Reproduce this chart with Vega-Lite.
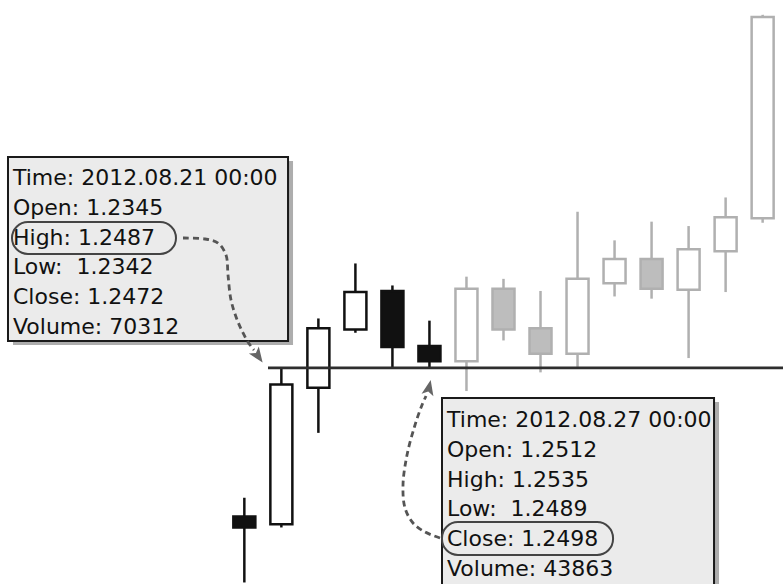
{
  "$schema": "https://vega.github.io/schema/vega-lite/v6.json",
  "autosize": {"type": "none"},
  "width": 783,
  "height": 584,
  "padding": 0,
  "background": "#ffffff",
  "config": {"view": {"stroke": null}, "scale": {"continuousPadding": 0}},
  "datasets": {
    "candles": [
      {"date": "2012.08.20", "slot": 0, "open": 1.2352, "high": 1.2369, "low": 1.2292, "close": 1.2342, "group": "focus"},
      {"date": "2012.08.21", "slot": 1, "open": 1.2345, "high": 1.2487, "low": 1.2342, "close": 1.2472, "group": "focus"},
      {"date": "2012.08.22", "slot": 2, "open": 1.2469, "high": 1.2532, "low": 1.2428, "close": 1.2523, "group": "focus"},
      {"date": "2012.08.23", "slot": 3, "open": 1.2522, "high": 1.2582, "low": 1.2519, "close": 1.2556, "group": "focus"},
      {"date": "2012.08.24", "slot": 4, "open": 1.2557, "high": 1.2562, "low": 1.2487, "close": 1.2506, "group": "focus"},
      {"date": "2012.08.27", "slot": 5, "open": 1.2507, "high": 1.2530, "low": 1.2487, "close": 1.2493, "group": "focus"},
      {"date": "2012.08.28", "slot": 6, "open": 1.2493, "high": 1.2570, "low": 1.2466, "close": 1.2559, "group": "later"},
      {"date": "2012.08.29", "slot": 7, "open": 1.2559, "high": 1.2568, "low": 1.2512, "close": 1.2522, "group": "later"},
      {"date": "2012.08.30", "slot": 8, "open": 1.2523, "high": 1.2557, "low": 1.2483, "close": 1.2500, "group": "later"},
      {"date": "2012.08.31", "slot": 9, "open": 1.2500, "high": 1.2629, "low": 1.2488, "close": 1.2568, "group": "later"},
      {"date": "2012.09.03", "slot": 10, "open": 1.2564, "high": 1.2603, "low": 1.2552, "close": 1.2586, "group": "later"},
      {"date": "2012.09.04", "slot": 11, "open": 1.2586, "high": 1.2620, "low": 1.2550, "close": 1.2559, "group": "later"},
      {"date": "2012.09.05", "slot": 12, "open": 1.2558, "high": 1.2616, "low": 1.2496, "close": 1.2595, "group": "later"},
      {"date": "2012.09.06", "slot": 13, "open": 1.2593, "high": 1.2642, "low": 1.2556, "close": 1.2624, "group": "later"},
      {"date": "2012.09.07", "slot": 14, "open": 1.2623, "high": 1.2808, "low": 1.2619, "close": 1.2806, "group": "later"}
    ],
    "level": [{"x": 0.639, "x2": 14.55, "price": 1.2487}],
    "boxes": [
      {"box": "2012.08.21", "x": -6.384, "x2": 1.180, "y": 1.267887, "y2": 1.25116},
      {"box": "2012.08.27", "x": 5.339, "x2": 12.687, "y": 1.245974, "y2": 1.2200}
    ],
    "texts": [
      {"box": "2012.08.21", "x": -6.249, "y": 1.265332, "label": "Time: 2012.08.21 00:00\nOpen: 1.2345\nHigh: 1.2487\nLow:\u00a0 1.2342\nClose: 1.2472\nVolume: 70312"},
      {"box": "2012.08.27", "x": 5.4745, "y": 1.243332, "label": "Time: 2012.08.27 00:00\nOpen: 1.2512\nHigh: 1.2535\nLow:\u00a0 1.2489\nClose: 1.2498\nVolume: 43863"}
    ],
    "ovals": [
      {"field": "High", "x": -6.276, "x2": -1.846, "y": 1.261968, "y2": 1.259059},
      {"field": "Close", "x": 5.339, "x2": 9.959, "y": 1.234695, "y2": 1.231695}
    ],
    "arrows": [
      {"arrow": "a1", "seq": 0, "x": -1.657, "y": 1.260514},
      {"arrow": "a1", "seq": 1, "x": -1.062, "y": 1.260423},
      {"arrow": "a1", "seq": 2, "x": -0.711, "y": 1.260059},
      {"arrow": "a1", "seq": 3, "x": -0.495, "y": 1.258968},
      {"arrow": "a1", "seq": 4, "x": -0.441, "y": 1.25715},
      {"arrow": "a1", "seq": 5, "x": -0.360, "y": 1.254877},
      {"arrow": "a1", "seq": 6, "x": -0.171, "y": 1.252877},
      {"arrow": "a1", "seq": 7, "x": 0.099, "y": 1.251059},
      {"arrow": "a1", "seq": 8, "x": 0.261, "y": 1.250332},
      {"arrow": "a2", "seq": 0, "x": 5.286, "y": 1.233241},
      {"arrow": "a2", "seq": 1, "x": 4.880, "y": 1.233786},
      {"arrow": "a2", "seq": 2, "x": 4.556, "y": 1.234605},
      {"arrow": "a2", "seq": 3, "x": 4.340, "y": 1.235968},
      {"arrow": "a2", "seq": 4, "x": 4.286, "y": 1.238059},
      {"arrow": "a2", "seq": 5, "x": 4.394, "y": 1.240786},
      {"arrow": "a2", "seq": 6, "x": 4.610, "y": 1.243514},
      {"arrow": "a2", "seq": 7, "x": 4.799, "y": 1.245332},
      {"arrow": "a2", "seq": 8, "x": 4.907, "y": 1.24615}
    ],
    "heads": [
      {"arrow": "a1", "x": 0.369, "y": 1.249786},
      {"arrow": "a2", "x": 4.988, "y": 1.246877}
    ]
  },
  "layer": [
    {
      "data": {"name": "candles"},
      "mark": {"type": "rule", "strokeWidth": 2.5},
      "encoding": {
        "x": {"field": "slot", "type": "quantitative", "scale": {"domain": [-6.6, 14.55], "nice": false, "zero": false, "padding": 0}, "axis": null},
        "y": {"field": "low", "type": "quantitative", "scale": {"domain": [1.22906, 1.28215], "nice": false, "zero": false}, "axis": null},
        "y2": {"field": "high"},
        "stroke": {"condition": {"test": "datum.group === 'later'", "value": "#b0b0b0"}, "value": "#111111"}
      }
    },
    {
      "data": {"name": "candles"},
      "mark": {"type": "bar", "width": 22, "strokeWidth": 2.5},
      "encoding": {
        "x": {"field": "slot", "type": "quantitative", "scale": {"domain": [-6.6, 14.55], "nice": false, "zero": false, "padding": 0}, "axis": null},
        "y": {"field": "open", "type": "quantitative", "scale": {"domain": [1.22906, 1.28215], "nice": false, "zero": false}, "axis": null},
        "y2": {"field": "close"},
        "fill": {"condition": [
          {"test": "datum.close < datum.open && datum.group === 'focus'", "value": "#111111"},
          {"test": "datum.close < datum.open", "value": "#bdbdbd"}
        ], "value": "#ffffff"},
        "stroke": {"condition": {"test": "datum.group === 'later'", "value": "#b0b0b0"}, "value": "#111111"}
      }
    },
    {
      "data": {"name": "level"},
      "mark": {"type": "rule", "stroke": "#2e2e2e", "strokeWidth": 2.8},
      "encoding": {
        "x": {"field": "x", "type": "quantitative", "scale": {"domain": [-6.6, 14.55], "nice": false, "zero": false, "padding": 0}, "axis": null},
        "x2": {"field": "x2"},
        "y": {"field": "price", "type": "quantitative", "scale": {"domain": [1.22906, 1.28215], "nice": false, "zero": false}, "axis": null}
      }
    },
    {
      "data": {"name": "boxes"},
      "mark": {"type": "rect", "fill": "#8a8a8a", "opacity": 0.7, "xOffset": 5, "x2Offset": 5, "yOffset": 4, "y2Offset": 4, "clip": true},
      "encoding": {
        "x": {"field": "x", "type": "quantitative", "scale": {"domain": [-6.6, 14.55], "nice": false, "zero": false, "padding": 0}, "axis": null},
        "x2": {"field": "x2"},
        "y": {"field": "y", "type": "quantitative", "scale": {"domain": [1.22906, 1.28215], "nice": false, "zero": false}, "axis": null},
        "y2": {"field": "y2"}
      }
    },
    {
      "data": {"name": "boxes"},
      "mark": {"type": "rect", "fill": "#ebebeb", "stroke": "#1a1a1a", "strokeWidth": 2, "clip": true},
      "encoding": {
        "x": {"field": "x", "type": "quantitative", "scale": {"domain": [-6.6, 14.55], "nice": false, "zero": false, "padding": 0}, "axis": null},
        "x2": {"field": "x2"},
        "y": {"field": "y", "type": "quantitative", "scale": {"domain": [1.22906, 1.28215], "nice": false, "zero": false}, "axis": null},
        "y2": {"field": "y2"}
      }
    },
    {
      "data": {"name": "texts"},
      "mark": {"type": "text", "align": "left", "baseline": "alphabetic", "font": "DejaVu Sans", "fontSize": 22, "lineBreak": "\n", "lineHeight": 29.8, "color": "#111111"},
      "encoding": {
        "x": {"field": "x", "type": "quantitative", "scale": {"domain": [-6.6, 14.55], "nice": false, "zero": false, "padding": 0}, "axis": null},
        "y": {"field": "y", "type": "quantitative", "scale": {"domain": [1.22906, 1.28215], "nice": false, "zero": false}, "axis": null},
        "text": {"field": "label"}
      }
    },
    {
      "data": {"name": "ovals"},
      "mark": {"type": "rect", "fill": null, "fillOpacity": 0, "stroke": "#444444", "strokeWidth": 2, "cornerRadius": 16},
      "encoding": {
        "x": {"field": "x", "type": "quantitative", "scale": {"domain": [-6.6, 14.55], "nice": false, "zero": false, "padding": 0}, "axis": null},
        "x2": {"field": "x2"},
        "y": {"field": "y", "type": "quantitative", "scale": {"domain": [1.22906, 1.28215], "nice": false, "zero": false}, "axis": null},
        "y2": {"field": "y2"}
      }
    },
    {
      "data": {"name": "arrows"},
      "mark": {"type": "line", "interpolate": "catmull-rom", "stroke": "#555555", "strokeWidth": 2.8, "strokeDash": [6, 4]},
      "encoding": {
        "x": {"field": "x", "type": "quantitative", "scale": {"domain": [-6.6, 14.55], "nice": false, "zero": false, "padding": 0}, "axis": null},
        "y": {"field": "y", "type": "quantitative", "scale": {"domain": [1.22906, 1.28215], "nice": false, "zero": false}, "axis": null},
        "detail": {"field": "arrow"},
        "order": {"field": "seq", "type": "quantitative"}
      }
    },
    {
      "data": {"name": "heads"},
      "transform": [{"filter": "datum.arrow === 'a1'"}],
      "mark": {"type": "point", "shape": "M0,-1L0.75,0.9L0,0.45L-0.75,0.9Z", "size": 260, "filled": true, "fill": "#666666", "opacity": 1, "angle": 145},
      "encoding": {
        "x": {"field": "x", "type": "quantitative", "scale": {"domain": [-6.6, 14.55], "nice": false, "zero": false, "padding": 0}, "axis": null},
        "y": {"field": "y", "type": "quantitative", "scale": {"domain": [1.22906, 1.28215], "nice": false, "zero": false}, "axis": null}
      }
    },
    {
      "data": {"name": "heads"},
      "transform": [{"filter": "datum.arrow === 'a2'"}],
      "mark": {"type": "point", "shape": "M0,-1L0.75,0.9L0,0.45L-0.75,0.9Z", "size": 260, "filled": true, "fill": "#666666", "opacity": 1, "angle": 12},
      "encoding": {
        "x": {"field": "x", "type": "quantitative", "scale": {"domain": [-6.6, 14.55], "nice": false, "zero": false, "padding": 0}, "axis": null},
        "y": {"field": "y", "type": "quantitative", "scale": {"domain": [1.22906, 1.28215], "nice": false, "zero": false}, "axis": null}
      }
    }
  ]
}
